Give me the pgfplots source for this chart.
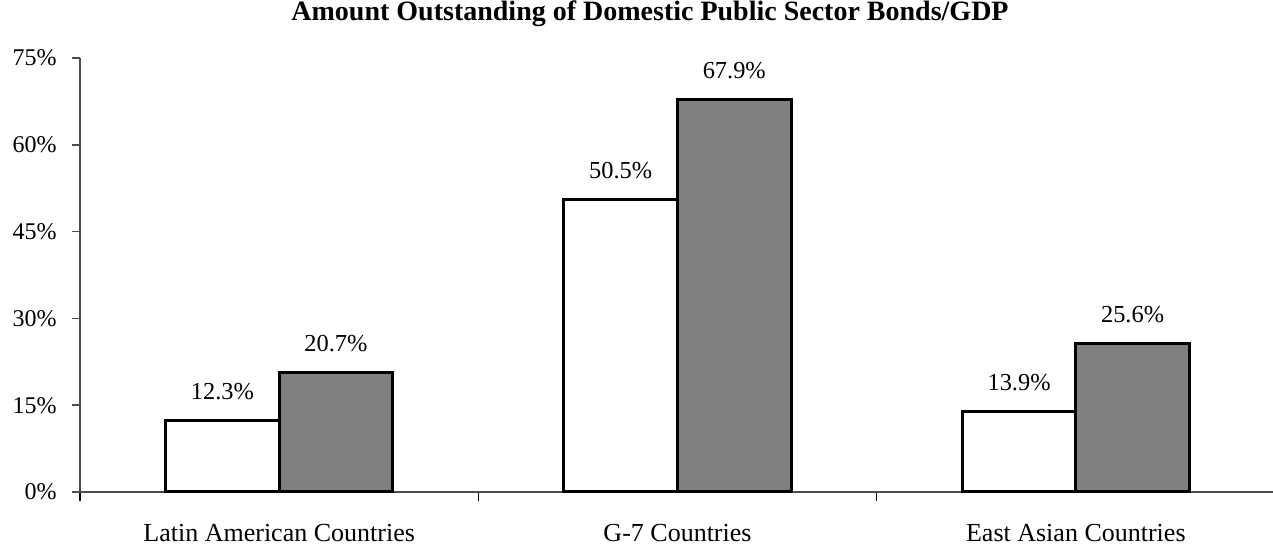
\documentclass[border=0pt]{standalone}
\usepackage{pgfplots}
\pgfplotsset{compat=1.18}
\usepackage{fontspec}
\setmainfont{Liberation Serif}
\usetikzlibrary{calc}
\begin{document}
\fontsize{12}{14}\selectfont
\begin{tikzpicture}
\begin{axis}[
  name=ax,
  scale only axis,
  width=597.5pt, height=217pt,
  xmin=-0.5, xmax=2.5,
  ymin=0, ymax=75,
  ytick={0,15,30,45,60,75},
  yticklabel={\pgfmathprintnumber{\tick}\%},
  /pgf/number format/assume math mode=true,
  xtick={0,1,2},
  xticklabels={Latin American Countries, G-7 Countries, East Asian Countries},
  minor xtick={-0.5,0.5,1.5,2.5},
  major x tick style={draw=none},
  minor x tick style={draw=black, line width=0.8pt},
  minor tick length=4.5pt,
  axis x line*=bottom,
  axis y line*=left,
  axis line style={black!70, line width=0.8pt},
  tick align=outside,
  major tick length=4pt,
  y tick style={black!70, line width=0.8pt},
  xticklabel style={font=\fontsize{13}{15}\selectfont, yshift=-8pt},
  yticklabel style={font=\fontsize{12}{14}\selectfont, xshift=-3.5pt},
  ybar=0pt,
  bar width=0.285,
  title={\textbf{Amount Outstanding of Domestic Public Sector Bonds/GDP}},
  title style={at={(0.477,1)}, anchor=base, inner sep=0pt, yshift=13pt, font=\fontsize{14}{16}\selectfont},
  nodes near coords={\pgfmathprintnumber[fixed,fixed zerofill,precision=1]{\pgfplotspointmeta}\%},
  nodes near coords style={anchor=base, inner sep=0pt, yshift=10.5pt, font=\fontsize{12.2}{14}\selectfont},
  clip=false,
]
\addplot[fill=white, draw=black, line width=1.5pt] coordinates {(0,12.3) (1,50.5) (2,13.9)};
\addplot[fill=black!50, draw=black, line width=1.5pt] coordinates {(0,20.7) (1,67.9) (2,25.6)};
\end{axis}
\pgfresetboundingbox
\path[use as bounding box] ($(ax.south west)+(-40pt,-26.5pt)$) rectangle ++(636.5pt,272.5pt);
\end{tikzpicture}
\end{document}
